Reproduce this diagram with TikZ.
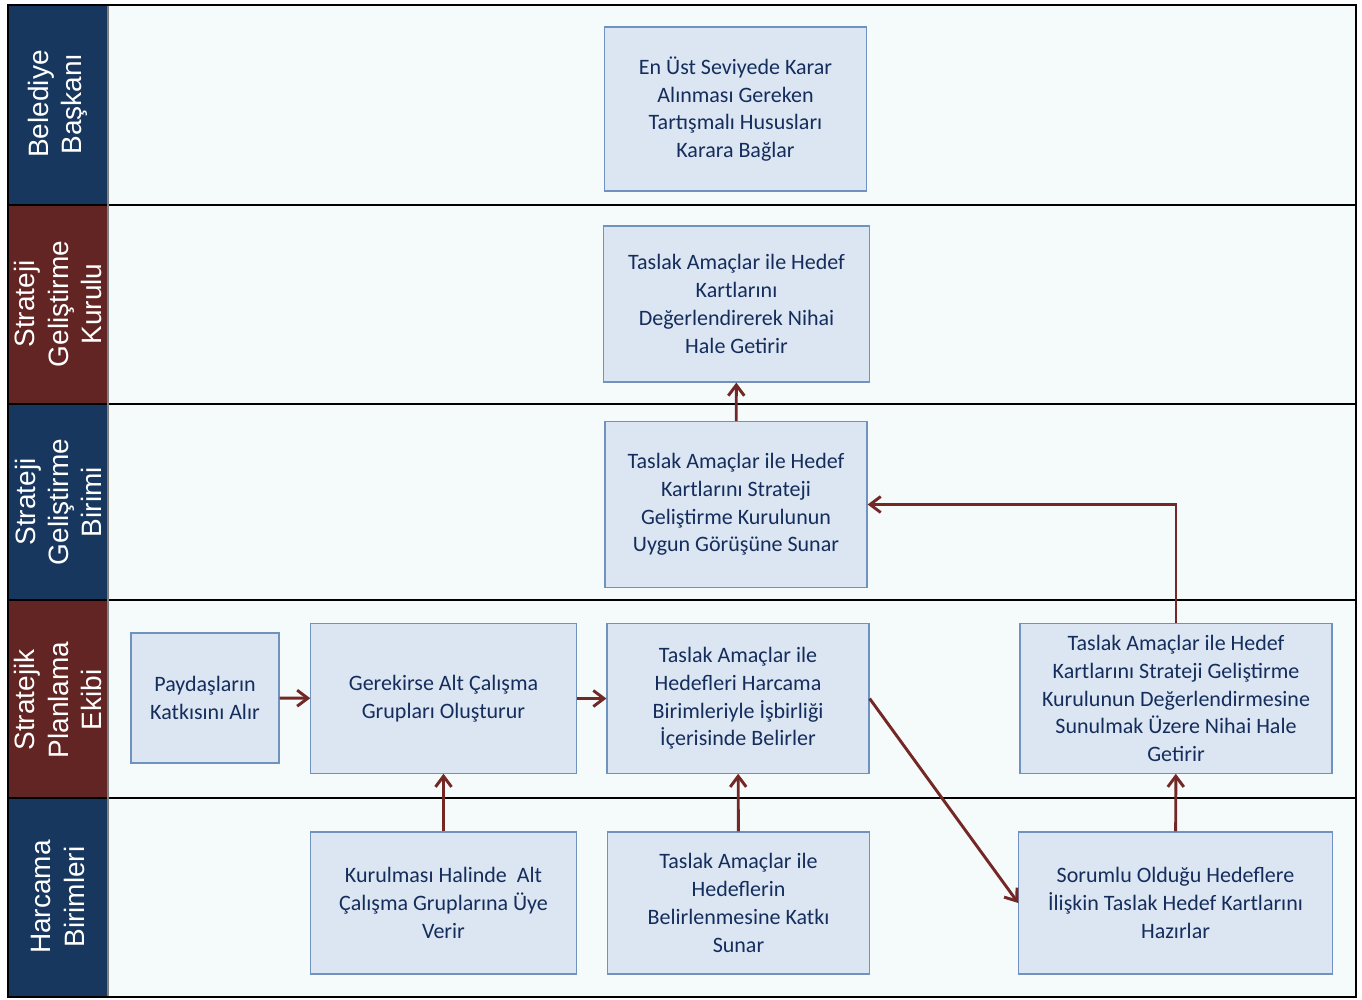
\documentclass[tikz,border=0pt]{standalone}
\usepackage{fontspec}
\setmainfont{Carlito}
\newfontfamily\lanefont{Liberation Sans}
\usetikzlibrary{arrows.meta, positioning}
\definecolor{laneblue}{RGB}{23, 55, 94}
\definecolor{lanered}{RGB}{99, 37, 35}
\definecolor{lanebg}{RGB}{245, 250, 251}
\definecolor{boxfill}{RGB}{220, 230, 242}
\definecolor{boxline}{RGB}{112, 146, 190}
\definecolor{boxtext}{RGB}{20, 45, 92}
\definecolor{flow}{RGB}{115, 40, 38}
\tikzstyle{task} = [rectangle, draw=boxline, fill=boxfill, line width=0.9pt, align=center, text=boxtext, font=\fontsize{16.5}{20.8}\selectfont, inner sep=0pt]
\tikzstyle{lanehead} = [rotate=90, text=white, align=center, font=\lanefont\fontsize{21}{24.8}\selectfont]
\tikzstyle{arrow} = [line width=2.2pt, draw=flow, -{Straight Barb[length=8pt,width=12pt]}]

\begin{document}
\begin{tikzpicture}[x=0.75pt, y=-0.75pt]
    % Lanes
    \useasboundingbox (0,0) rectangle (1362,999);
    \fill[white] (0,0) rectangle (1362,999);
    \fill[lanebg] (108,5) rectangle (1356,997);
    \foreach \ya/\yb/\c in {5/205/laneblue, 205/404/lanered, 404/600/laneblue, 600/798/lanered, 798/997/laneblue}
        \fill[\c] (8,\ya) rectangle (108,\yb);
    \foreach \ya in {205, 404, 600, 798}
        \draw[line width=0.9pt] (8,\ya) -- (1356,\ya);
    \draw[gray, line width=0.9pt] (108,5) -- (108,997);
    \draw[line width=0.9pt] (8,5) rectangle (1356,997);

    \node[lanehead] (h1) at (58, 104) {Belediye\\Başkanı};
    \node[lanehead] (h2) at (58, 304) {Strateji\\Geliştirme\\Kurulu};
    \node[lanehead] (h3) at (58, 502) {Strateji\\Geliştirme\\Birimi};
    \node[lanehead] (h4) at (58, 700) {Stratejik\\Planlama\\Ekibi};
    \node[lanehead] (h5) at (58, 897) {Harcama\\Birimleri};

    % Tasks
    \node[task, minimum width=197pt, minimum height=123pt] (a) at (735.5, 109) {En Üst Seviyede Karar\\Alınması Gereken\\Tartışmalı Hususları\\Karara Bağlar};
    \node[task, minimum width=199pt, minimum height=117pt] (b) at (736.5, 304) {Taslak Amaçlar ile Hedef\\Kartlarını\\Değerlendirerek Nihai\\Hale Getirir};
    \node[task, minimum width=196.5pt, minimum height=124pt] (c) at (736, 504.5) {Taslak Amaçlar ile Hedef\\Kartlarını Strateji\\Geliştirme Kurulunun\\Uygun Görüşüne Sunar};
    \node[task, minimum width=111pt, minimum height=97.5pt] (d) at (205, 698) {Paydaşların\\Katkısını Alır};
    \node[task, minimum width=199pt, minimum height=112pt] (e) at (443.5, 698.5) {Gerekirse Alt Çalışma\\Grupları Oluşturur};
    \node[task, minimum width=196.5pt, minimum height=112pt] (f) at (738, 698.5) {Taslak Amaçlar ile\\Hedefleri Harcama\\Birimleriyle İşbirliği\\İçerisinde Belirler};
    \node[task, minimum width=234pt, minimum height=112pt] (g) at (1176, 698.5) {Taslak Amaçlar ile Hedef\\Kartlarını Strateji Geliştirme\\Kurulunun Değerlendirmesine\\Sunulmak Üzere Nihai Hale\\Getirir};
    \node[task, minimum width=199pt, minimum height=106.5pt] (h) at (443.5, 903) {Kurulması Halinde~ Alt\\Çalışma Gruplarına Üye\\Verir};
    \node[task, minimum width=196pt, minimum height=106.5pt] (i) at (738.5, 903) {Taslak Amaçlar ile\\Hedeflerin\\Belirlenmesine Katkı\\Sunar};
    \node[task, minimum width=235pt, minimum height=106.5pt] (j) at (1175.5, 903) {Sorumlu Olduğu Hedeflere\\İlişkin Taslak Hedef Kartlarını\\Hazırlar};

    % Arrows
    \draw[arrow] (c) -- (b);
    \draw[arrow] (d) -- (e);
    \draw[arrow] (e) -- (f);
    \draw[arrow] (h) -- (e);
    \draw[arrow] (i) -- (f);
    \draw[arrow] (f.east) -- (j.west);
    \draw[arrow] (j) -- (g);
    \draw[arrow] (g.north) |- (c.east);
\end{tikzpicture}
\end{document}
